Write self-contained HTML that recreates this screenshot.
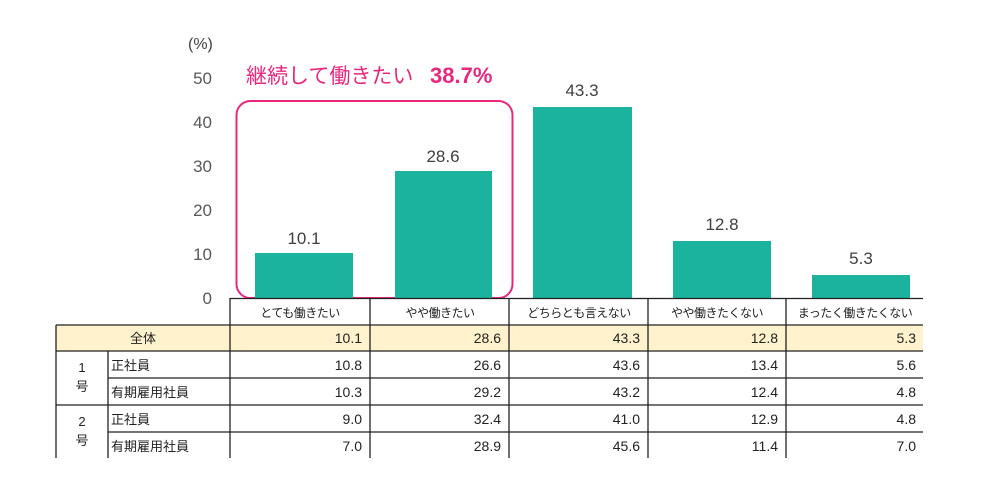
<!DOCTYPE html>
<html><head><meta charset="utf-8"><style>
body{margin:0;background:#fff}
svg{display:block}
text{font-family:"Liberation Sans","Noto Sans CJK JP",sans-serif}
</style></head><body>
<svg width="985" height="483" viewBox="0 0 985 483">
<g font-size="17" fill="#595959" text-anchor="end">
<text x="212" y="304">0</text>
<text x="212" y="260">10</text>
<text x="212" y="216">20</text>
<text x="212" y="172">30</text>
<text x="212" y="128">40</text>
<text x="212" y="84">50</text>
</g>
<text x="188" y="49" font-size="16" fill="#404040">(%)</text>
<text x="246" y="83" font-size="21" fill="#e8287f">継続して働きたい</text>
<text x="430" y="83" font-size="22" font-weight="bold" fill="#e8287f">38.7%</text>
<rect x="236.5" y="101" width="276" height="197" rx="14" fill="none" stroke="#e8287f" stroke-width="2"/>
<g fill="#1bb29e">
<rect x="255" y="253" width="98" height="45"/>
<rect x="395" y="171" width="97" height="127"/>
<rect x="533" y="107" width="99" height="191"/>
<rect x="673" y="241" width="98" height="57"/>
<rect x="812" y="275" width="98" height="23"/>
</g>
<g font-size="17" fill="#404040" text-anchor="middle">
<text x="304" y="244">10.1</text>
<text x="443" y="162">28.6</text>
<text x="582" y="96">43.3</text>
<text x="722" y="230">12.8</text>
<text x="861" y="264">5.3</text>
</g>
<rect x="56" y="325" width="867" height="26" fill="#fff2cc"/>
<g stroke="#222" stroke-width="1.3">
<line x1="230" y1="298.5" x2="923" y2="298.5"/>
<line x1="56" y1="325" x2="923" y2="325"/>
<line x1="56" y1="351" x2="923" y2="351"/>
<line x1="108" y1="378" x2="923" y2="378"/>
<line x1="56" y1="405" x2="923" y2="405"/>
<line x1="108" y1="432" x2="923" y2="432"/>
<line x1="56" y1="325" x2="56" y2="458"/>
<line x1="108" y1="351" x2="108" y2="458"/>
<line x1="230" y1="298" x2="230" y2="458"/>
<line x1="370" y1="298" x2="370" y2="458"/>
<line x1="509" y1="298" x2="509" y2="458"/>
<line x1="648" y1="298" x2="648" y2="458"/>
<line x1="786" y1="298" x2="786" y2="458"/>
</g>
<g font-size="12" fill="#222" text-anchor="middle" letter-spacing="-0.5">
<text x="300" y="317">とても働きたい</text>
<text x="440" y="317">やや働きたい</text>
<text x="579" y="317">どちらとも言えない</text>
<text x="717" y="317">やや働きたくない</text>
<text x="855" y="317">まったく働きたくない</text>
</g>
<g font-size="13" fill="#222" text-anchor="middle">
<text x="143" y="343">全体</text>
<text x="82" y="372">1</text>
<text x="82" y="391">号</text>
<text x="82" y="426">2</text>
<text x="82" y="445">号</text>
</g>
<g font-size="13" fill="#222">
<text x="111" y="370">正社員</text>
<text x="111" y="397">有期雇用社員</text>
<text x="111" y="424">正社員</text>
<text x="111" y="451">有期雇用社員</text>
</g>
<g font-size="14" fill="#222" text-anchor="end">
<text x="362" y="343">10.1</text><text x="501" y="343">28.6</text><text x="640" y="343">43.3</text><text x="778" y="343">12.8</text><text x="916" y="343">5.3</text>
<text x="362" y="370">10.8</text><text x="501" y="370">26.6</text><text x="640" y="370">43.6</text><text x="778" y="370">13.4</text><text x="916" y="370">5.6</text>
<text x="362" y="397">10.3</text><text x="501" y="397">29.2</text><text x="640" y="397">43.2</text><text x="778" y="397">12.4</text><text x="916" y="397">4.8</text>
<text x="362" y="424">9.0</text><text x="501" y="424">32.4</text><text x="640" y="424">41.0</text><text x="778" y="424">12.9</text><text x="916" y="424">4.8</text>
<text x="362" y="451">7.0</text><text x="501" y="451">28.9</text><text x="640" y="451">45.6</text><text x="778" y="451">11.4</text><text x="916" y="451">7.0</text>
</g>
</svg>
</body></html>
